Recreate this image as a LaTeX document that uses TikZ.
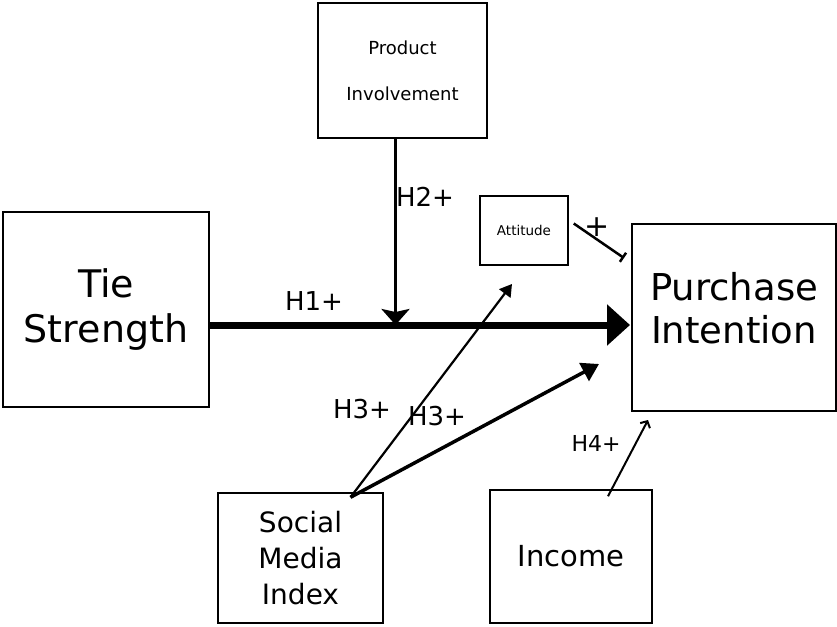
\documentclass[tikz,border=0pt]{standalone}
\usepackage{fontspec}
\setmainfont{DejaVu Sans}
\usetikzlibrary{arrows.meta}

\begin{document}
\begin{tikzpicture}[x=1pt,y=-1pt,box/.style={draw,line width=1.5pt,inner sep=0pt,align=center},lab/.style={inner sep=0pt,font=\fontsize{26}{30}\selectfont}]
\useasboundingbox (0,0) rectangle (837,626);
\node[box,minimum width=169,minimum height=135,font=\fontsize{18}{46}\selectfont] (prod) at (402.5,70.5) {Product\\Involvement};
\node[box,minimum width=206,minimum height=195,font=\fontsize{38}{45}\selectfont] (tie) at (106,309.5) {Tie\\Strength};
\node[box,minimum width=88,minimum height=69,font=\fontsize{13.5}{16}\selectfont] (att) at (524,230.5) {Attitude};
\node[box,minimum width=204,minimum height=187,font=\fontsize{37}{43}\selectfont,text depth=20pt] (pi) at (734,317.5) {Purchase\\Intention};
\node[box,minimum width=165,minimum height=130,font=\fontsize{28}{36}\selectfont] (smi) at (300.5,558) {Social\\Media\\Index};
\node[box,minimum width=162,minimum height=133,font=\fontsize{29}{34}\selectfont] (inc) at (571,556.5) {Income};
\coordinate (h1end) at (630,325);
\coordinate (h3a) at (512,284);
\coordinate (h3b) at (599,364);
\coordinate (h4end) at (648,420);
\coordinate (attend) at (624,258);
\draw[line width=7pt,-{Triangle[length=23pt,width=40pt]}] (tie.east |- h1end) -- (h1end);
\draw[line width=3.5pt,-{Stealth[length=16pt,width=28pt,inset=3pt]}] ([xshift=-7pt]prod.south) -- ([xshift=-7pt]prod.south |- h1end);
\draw[line width=2.2pt,-{Triangle[length=12pt,width=14pt]}] ([xshift=50pt,yshift=-5pt]smi.north) -- (h3a);
\draw[line width=3.5pt,-{Triangle[length=17pt,width=20pt]}] ([xshift=50pt,yshift=-5pt]smi.north) -- (h3b);
\draw[line width=2pt,-{Straight Barb[length=5pt,width=11pt]}] ([xshift=37pt,yshift=-7pt]inc.north) -- (h4end);
\draw[line width=2.5pt,-{Bar[width=11pt]}] ([xshift=5pt,yshift=7pt]att.east) -- (attend);
\node[lab] (lh1) at (314,301) {H1+};
\node[lab] (lh2) at (425,197) {H2+};
\node[lab] (lh3a) at (362,409) {H3+};
\node[lab] (lh3b) at (437,416) {H3+};
\node[lab,font=\fontsize{22}{24}\selectfont] (lh4) at (596,443) {H4+};
\node[lab,font=\fontsize{30}{30}\selectfont] (lplus) at (597,227) {+};
\end{tikzpicture}
\end{document}
